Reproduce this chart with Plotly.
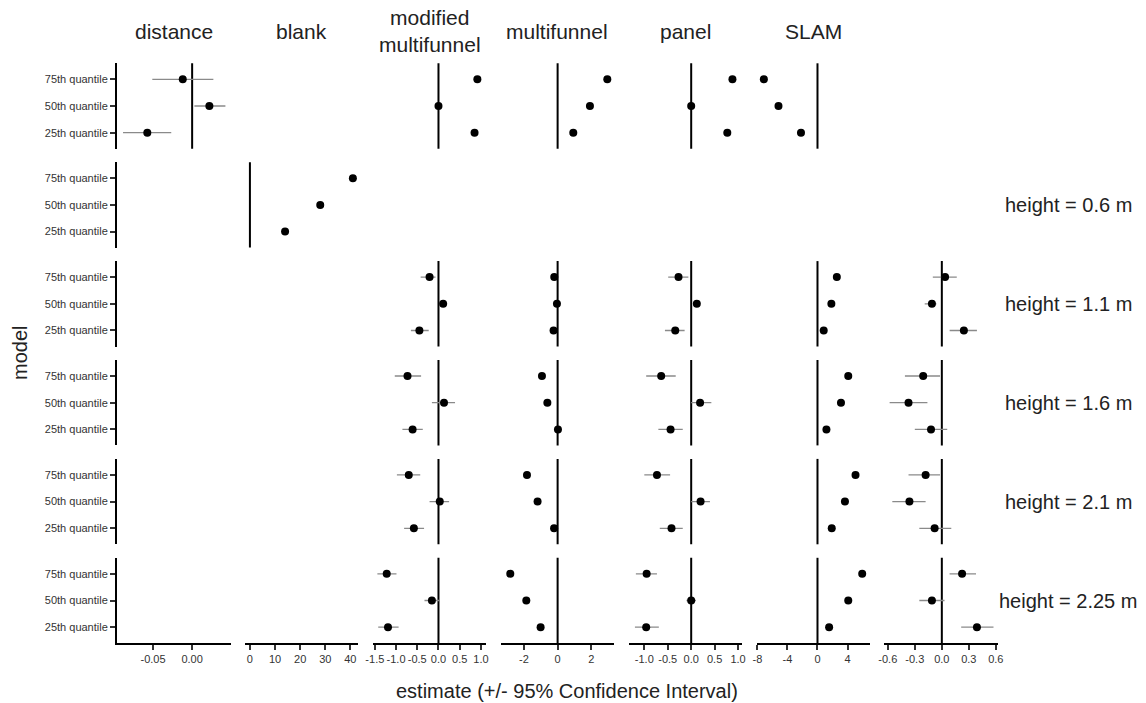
import plotly.graph_objects as go

W, H = 1146, 703

quantiles = ["25th quantile", "50th quantile", "75th quantile"]
columns = ["distance", "blank", "modified<br>multifunnel", "multifunnel", "panel", "SLAM", ""]
row_labels = ["", "height = 0.6 m", "height = 1.1 m", "height = 1.6 m", "height = 2.1 m", "height = 2.25 m"]

# estimates per column: row index -> (estimate, lower, upper) for [25th, 50th, 75th]
distance = {
    0: ([-0.0573, 0.022, -0.012], [-0.0883, 0.0029, -0.0509], [-0.0267, 0.0425, 0.0271]),
}
blank = {
    1: ([14.0, 28.0, 41.0], [13.2, 27.2, 40.2], [14.8, 28.8, 41.8]),
}
modified_multifunnel = {
    0: ([0.85, 0.0, 0.916], [0.82, -0.02, 0.89], [0.88, 0.02, 0.94]),
    2: ([-0.45, 0.11, -0.21], [-0.65, 0.05, -0.42], [-0.23, 0.17, -0.07]),
    3: ([-0.61, 0.13, -0.73], [-0.85, -0.155, -1.03], [-0.37, 0.39, -0.41]),
    4: ([-0.58, 0.03, -0.70], [-0.81, -0.21, -0.98], [-0.34, 0.25, -0.43]),
    5: ([-1.19, -0.155, -1.22], [-1.42, -0.33, -1.44], [-0.94, 0.03, -0.99]),
}
multifunnel = {
    0: ([0.93, 1.92, 2.95], [0.85, 1.84, 2.87], [1.01, 2.0, 3.03]),
    2: ([-0.24, -0.04, -0.2], [-0.36, -0.16, -0.32], [-0.12, 0.08, -0.08]),
    3: ([0.02, -0.61, -0.93], [-0.08, -0.8, -1.1], [0.12, -0.45, -0.75]),
    4: ([-0.21, -1.19, -1.82], [-0.36, -1.34, -1.97], [-0.06, -1.04, -1.67]),
    5: ([-1.01, -1.86, -2.81], [-1.16, -2.01, -2.96], [-0.86, -1.71, -2.66]),
}
panel = {
    0: ([0.77, 0.0, 0.88], [0.74, -0.03, 0.85], [0.8, 0.03, 0.91]),
    2: ([-0.34, 0.12, -0.27], [-0.56, 0.06, -0.49], [-0.14, 0.18, -0.06]),
    3: ([-0.44, 0.19, -0.64], [-0.70, 0.0, -0.96], [-0.18, 0.43, -0.33]),
    4: ([-0.42, 0.20, -0.73], [-0.67, 0.0, -1.0], [-0.18, 0.40, -0.45]),
    5: ([-0.96, 0.0, -0.95], [-1.2, -0.1, -1.18], [-0.69, 0.1, -0.73]),
}
slam = {
    0: ([-2.2, -5.2, -7.15], [-2.5, -5.5, -7.45], [-1.9, -4.9, -6.85]),
    2: ([0.83, 1.85, 2.58], [0.43, 1.45, 2.18], [1.23, 2.25, 2.98]),
    3: ([1.19, 3.13, 4.1], [0.79, 2.73, 3.7], [1.59, 3.53, 4.5]),
    4: ([1.9, 3.66, 5.07], [1.5, 3.26, 4.67], [2.3, 4.06, 5.47]),
    5: ([1.55, 4.1, 5.96], [1.15, 3.7, 5.56], [1.95, 4.5, 6.36]),
}
seventh = {
    2: ([0.245, -0.11, 0.036], [0.087, -0.19, -0.10], [0.39, -0.06, 0.166]),
    3: ([-0.12, -0.37, -0.207], [-0.30, -0.58, -0.41], [0.06, -0.16, -0.02]),
    4: ([-0.08, -0.36, -0.18], [-0.25, -0.55, -0.37], [0.105, -0.18, -0.02]),
    5: ([0.39, -0.11, 0.225], [0.215, -0.25, 0.086], [0.574, 0.03, 0.38]),
}
column_data = [distance, blank, modified_multifunnel, multifunnel, panel, slam, seventh]

x_ranges = [[-0.096, 0.049], [-2, 43.2], [-1.548, 1.127], [-3.38, 3.36],
            [-1.335, 1.086], [-8.13, 7.0], [-0.638, 0.623]]
x_tickvals = [[-0.05, 0.0], [0, 10, 20, 30, 40], [-1.5, -1.0, -0.5, 0.0, 0.5, 1.0],
              [-2, 0, 2], [-1.0, -0.5, 0.0, 0.5, 1.0], [-8, -4, 0, 4],
              [-0.6, -0.3, 0.0, 0.3, 0.6]]
x_ticktext = [["-0.05", "0.00"], ["0", "10", "20", "30", "40"],
              ["-1.5", "-1.0", "-0.5", "0.0", "0.5", "1.0"], ["-2", "0", "2"],
              ["-1.0", "-0.5", "0.0", "0.5", "1.0"], ["-8", "-4", "0", "4"],
              ["-0.6", "-0.3", "0.0", "0.3", "0.6"]]

FONT = "Liberation Sans, Arial, sans-serif"
TICK_COLOR = "#333333"
NROW, NCOL = len(row_labels), len(columns)
COL_LEFT, COL_STEP, COL_W = 117.0, 127.9, 113.5
ROW_C0, ROW_STEP, ROW_HALF = 106.0, 98.9, 42.7

qpos = list(range(len(quantiles)))

fig = go.Figure()
layout = {}
shapes = []
annotations = []

for r in range(NROW):
    yc = ROW_C0 + r * ROW_STEP
    for c in range(NCOL):
        n = r * NCOL + c + 1
        sx = "" if n == 1 else str(n)
        left = COL_LEFT + c * COL_STEP
        bottom_row = (r == NROW - 1)
        first_col = (c == 0)
        layout["xaxis" + sx] = dict(
            domain=[left / W, (left + COL_W) / W], range=x_ranges[c],
            anchor="y" + sx, showgrid=False, zeroline=False, automargin=False,
            showline=bottom_row, linecolor="black", linewidth=2,
            ticks="outside" if bottom_row else "", ticklen=5, tickwidth=2, tickcolor=TICK_COLOR,
            showticklabels=bottom_row, tickvals=x_tickvals[c], ticktext=x_ticktext[c],
            tickfont=dict(family=FONT, size=11, color=TICK_COLOR), fixedrange=True,
        )
        layout["yaxis" + sx] = dict(
            domain=[1 - (yc + ROW_HALF) / H, 1 - (yc - ROW_HALF) / H],
            range=[-0.6, len(quantiles) - 0.4], anchor="x" + sx,
            showgrid=False, zeroline=False, automargin=False,
            showline=first_col, linecolor="black", linewidth=2,
            ticks="outside" if first_col else "", ticklen=5, tickwidth=2, tickcolor=TICK_COLOR,
            showticklabels=first_col, tickvals=qpos, ticktext=quantiles,
            tickfont=dict(family=FONT, size=11, color=TICK_COLOR), fixedrange=True,
        )
        data = column_data[c].get(r)
        if data is None:
            # empty facet: an invisible trace so the facet's axes are still drawn
            fig.add_trace(go.Scatter(x=[None], y=[None], mode="markers",
                                     xaxis="x" + sx, yaxis="y" + sx,
                                     showlegend=False, hoverinfo="skip"))
            continue
        est, lo, hi = data
        fig.add_trace(go.Scatter(
            x=est, y=qpos, mode="markers", xaxis="x" + sx, yaxis="y" + sx,
            marker=dict(color="black", size=8),
            error_x=dict(type="data", symmetric=False,
                         array=[h - e for h, e in zip(hi, est)],
                         arrayminus=[e - l for e, l in zip(est, lo)],
                         width=0, thickness=1.3, color="#8a8a8a"),
            showlegend=False, hoverinfo="skip",
        ))
        shapes.append(dict(type="line", xref="x" + sx, yref="y" + sx + " domain",
                           x0=0, x1=0, y0=0, y1=1, layer="below",
                           line=dict(color="black", width=2)))

for c, name in enumerate(columns):
    if not name:
        continue
    annotations.append(dict(
        text=name, xref="paper", yref="paper",
        x=(COL_LEFT + c * COL_STEP + COL_W / 2) / W, y=1 - 31 / H,
        xanchor="center", yanchor="middle", showarrow=False,
        font=dict(family=FONT, size=21, color="#222")))

for r, name in enumerate(row_labels):
    if not name:
        continue
    annotations.append(dict(
        text=name, xref="paper", yref="paper",
        x=1068 / W, y=1 - (ROW_C0 + r * ROW_STEP) / H,
        xanchor="center", yanchor="middle", showarrow=False,
        font=dict(family=FONT, size=20, color="#222")))

annotations.append(dict(
    text="estimate (+/- 95% Confidence Interval)", xref="paper", yref="paper",
    x=567 / W, y=1 - 691 / H, xanchor="center", yanchor="middle", showarrow=False,
    font=dict(family=FONT, size=20, color="#222")))
annotations.append(dict(
    text="model", xref="paper", yref="paper", textangle=-90,
    x=20 / W, y=1 - 353 / H, xanchor="center", yanchor="middle", showarrow=False,
    font=dict(family=FONT, size=20, color="#222")))

fig.update_layout(
    template="none",
    width=W, height=H, autosize=False,
    margin=dict(l=0, r=0, t=0, b=0, pad=0),
    paper_bgcolor="white", plot_bgcolor="white",
    font=dict(family=FONT, color="#222"),
    showlegend=False, shapes=shapes, annotations=annotations,
    **layout,
)

fig.write_html("out.html", config={"displayModeBar": False})
